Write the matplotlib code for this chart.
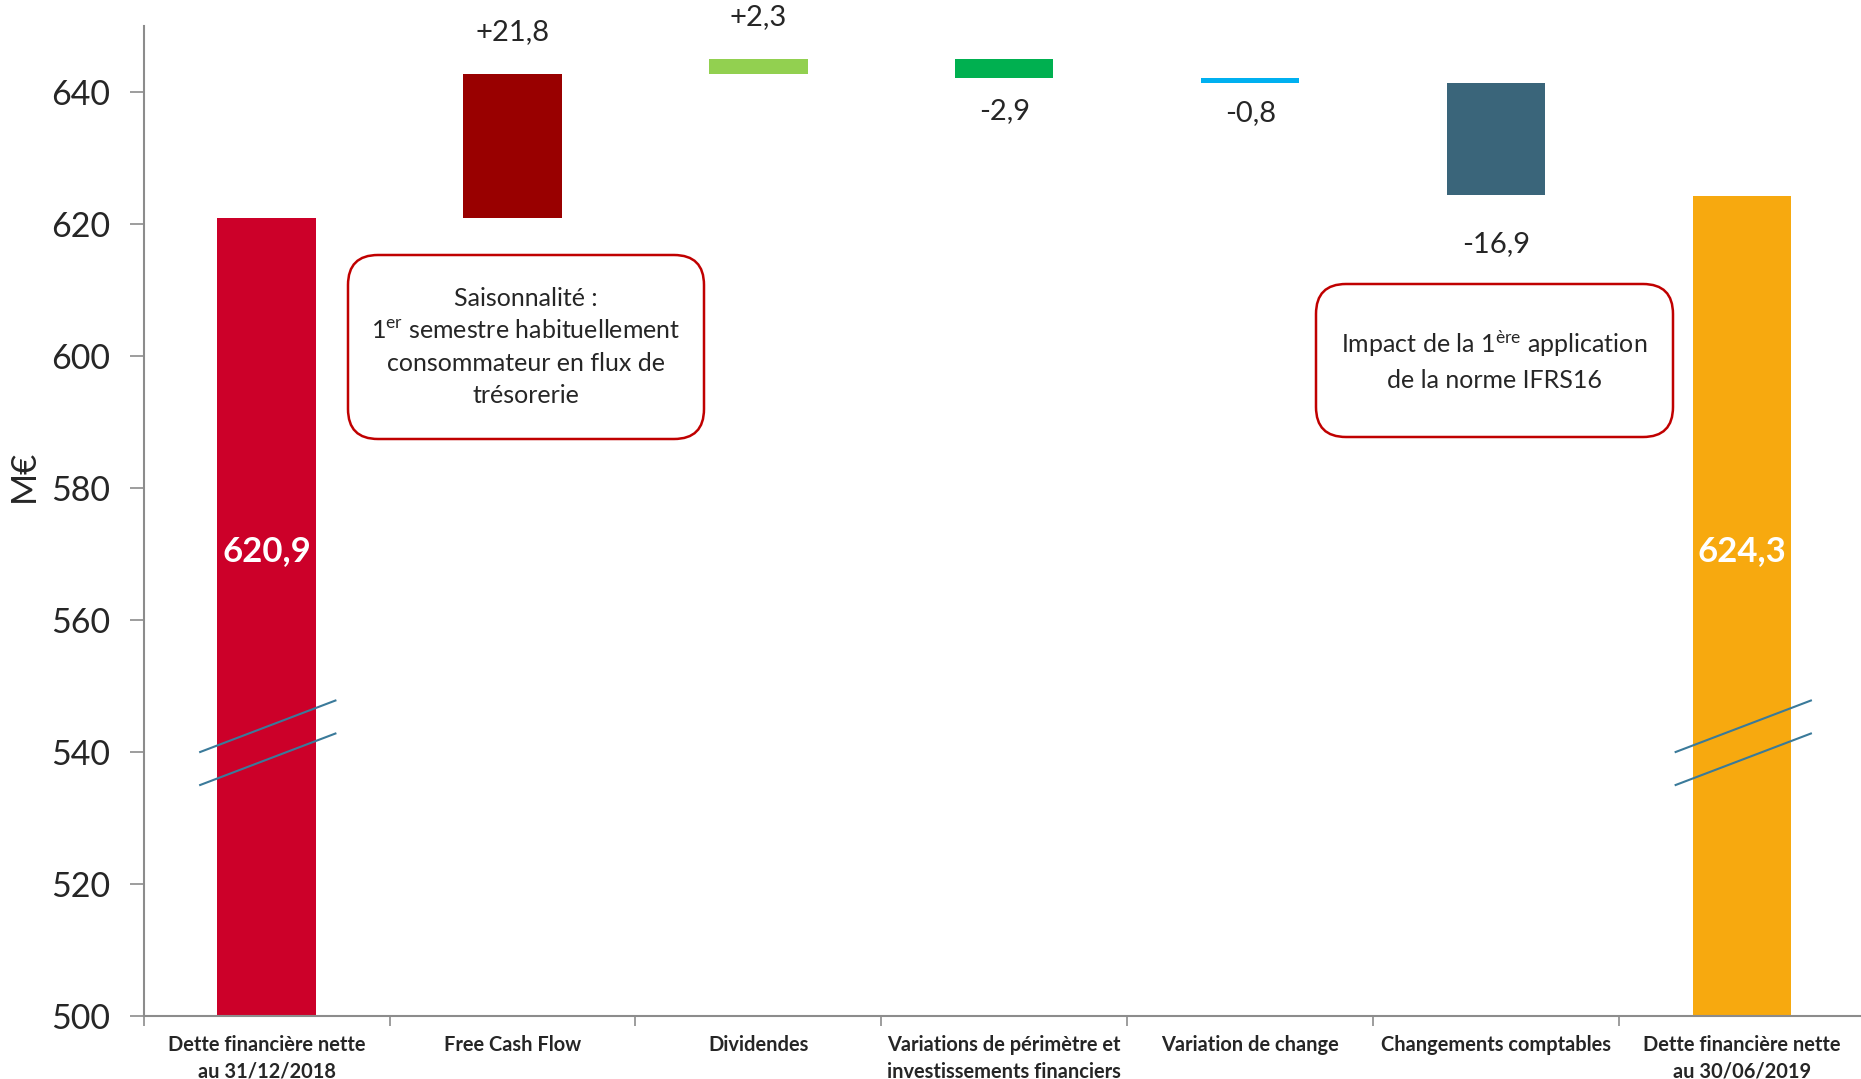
import matplotlib
matplotlib.use("Agg")
import matplotlib.pyplot as plt
from matplotlib.patches import FancyBboxPatch
from matplotlib.transforms import IdentityTransform

plt.rcParams['font.family'] = ['Lato', 'DejaVu Sans']
plt.rcParams['mathtext.fontset'] = 'custom'
plt.rcParams['mathtext.rm'] = 'Lato'
plt.rcParams['mathtext.it'] = 'Lato:italic'
plt.rcParams['mathtext.bf'] = 'Lato:bold'

# ---------------- data ----------------
categories = [
    "Dette financière nette\nau 31/12/2018",
    "Free Cash Flow",
    "Dividendes",
    "Variations de périmètre et\ninvestissements financiers",
    "Variation de change",
    "Changements comptables",
    "Dette financière nette\nau 30/06/2019",
]
start_value = 620.9
changes = [21.8, 2.3, -2.9, -0.8, -16.9]
end_value = 624.3
change_labels = ["+21,8", "+2,3", "-2,9", "-0,8", "-16,9"]
total_labels = ["620,9", "624,3"]
y_ticks = [500, 520, 540, 560, 580, 600, 620, 640]
y_label = "M€"
note1 = "Saisonnalité :\n1$^{\\mathrm{er}}$ semestre habituellement\nconsommateur en flux de\ntrésorerie"
note2 = "Impact de la 1$^{\\mathrm{ère}}$ application\nde la norme IFRS16"

# ---------------- style ----------------
bar_colors = ["#CC0029", "#990000", "#92D050", "#00B050", "#00B0F0", "#3A657A", "#F7A90F"]
label_offsets_pt = [30, 30, -24, -21, -35]
text_color = "#262626"
axis_color = "#8C8C8C"
W, H = 1861, 1079

fig = plt.figure(figsize=(W / 100, H / 100), dpi=100)
ax = fig.add_axes([143.6 / W, 1 - 1016 / H, (1865 - 143.6) / W, (1016 - 26) / H])

bw = 0.40
n = len(categories)
# start bar
ax.bar(0, start_value, width=bw, color=bar_colors[0], zorder=2)
running = start_value
for i, c in enumerate(changes):
    bottom = min(running, running + c)
    ax.bar(i + 1, abs(c), bottom=bottom, width=bw, color=bar_colors[i + 1], zorder=2)
    ytxt = bottom + abs(c) if c >= 0 else bottom
    ax.annotate(change_labels[i], xy=(i + 1, ytxt), xytext=(0, label_offsets_pt[i]),
                textcoords="offset points", ha="center", va="center",
                fontsize=21, color=text_color)
    running += c
ax.bar(n - 1, end_value, width=bw, color=bar_colors[-1], zorder=2)

# totals text
for xi, lab in zip([0, n - 1], total_labels):
    ax.text(xi, 570.5, lab, ha="center", va="center", fontsize=25, fontweight="bold",
            color="white", zorder=3)

# break marks
for xi in [0, n - 1]:
    for y0 in [540, 535]:
        ax.plot([xi - 0.27, xi + 0.28], [y0, y0 + 7.8], color="#3A7A9A", lw=1.5,
                zorder=4, clip_on=False)

ax.set_xlim(-0.5, n - 0.5)
ax.set_ylim(500, 650)
ax.set_yticks(y_ticks)
ax.set_yticklabels([str(v) for v in y_ticks])
ax.tick_params(axis="y", length=10, width=1.2, color=axis_color, labelsize=24.5,
               labelcolor=text_color, pad=14)
ax.set_xticks(range(n))
ax.set_xticklabels(categories, fontsize=14.4, fontweight="bold", color=text_color,
                   linespacing=1.4)
ax.tick_params(axis="x", which="major", length=0, pad=14)
ax.set_xticks([i - 0.5 for i in range(n + 1)], minor=True)
ax.tick_params(axis="x", which="minor", length=7, width=1.2, color=axis_color)
for s in ["top", "right"]:
    ax.spines[s].set_visible(False)
for s in ["left", "bottom"]:
    ax.spines[s].set_color(axis_color)
    ax.spines[s].set_linewidth(1.5)
ax.set_ylabel(y_label, fontsize=25, color=text_color)
ax.yaxis.set_label_coords(-0.060, 0.546)

# annotation boxes (pixel coordinates, origin bottom-left)
def note_box(x0, y0top, x1, y1bot, text, cy):
    b = FancyBboxPatch((x0, H - y1bot), x1 - x0, y1bot - y0top,
                       boxstyle="round,pad=0,rounding_size=30",
                       transform=IdentityTransform(), facecolor="white",
                       edgecolor="#C00000", linewidth=1.8, zorder=5)
    fig.add_artist(b)
    fig.text(((x0 + x1) / 2) / W, 1 - cy / H, text,
             ha="center", va="center", fontsize=18, color=text_color,
             linespacing=1.5, zorder=6)

note_box(348, 255, 704, 439, note1, 347)
note_box(1316, 284, 1673, 437, note2, 360)

fig.savefig("out.png", dpi=100, facecolor="white")
